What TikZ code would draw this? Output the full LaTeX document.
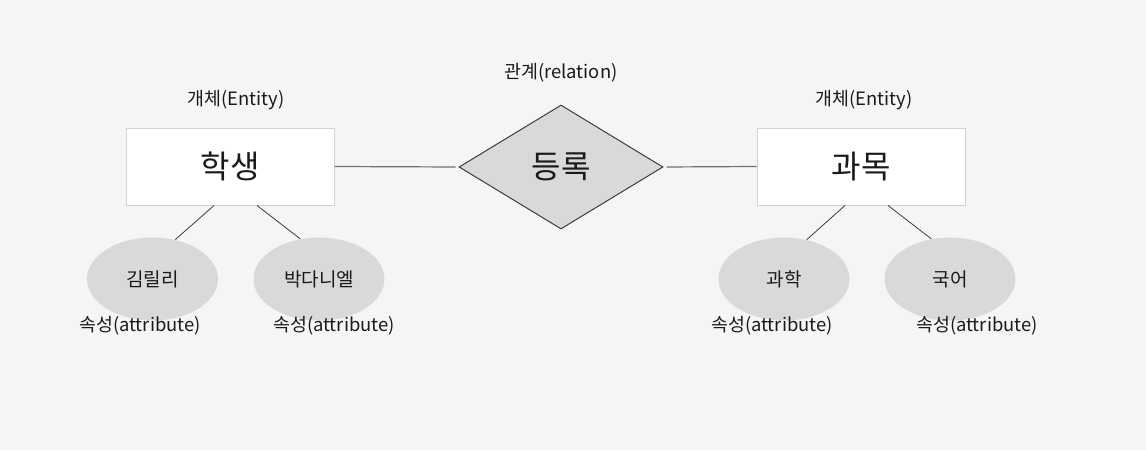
\documentclass[tikz,border=0pt]{standalone}
\usepackage{fontspec}
\setmainfont{Noto Sans CJK KR}
\usetikzlibrary{calc,shapes.geometric}
\definecolor{Paper}{HTML}{F5F5F5}
\definecolor{Ink}{HTML}{1A1A1A}
\definecolor{BoxEdge}{HTML}{D2D2D2}
\definecolor{Shade}{HTML}{D9D9D9}
\definecolor{LinkGray}{HTML}{707070}
\definecolor{RelEdge}{HTML}{3C3C3C}
\tikzset{
  entity/.style={
    draw=BoxEdge, line width=0.5pt, fill=white, text=Ink,
    minimum width=104pt, minimum height=38.5pt, font=\fontsize{16}{18}\selectfont
  },
  relation/.style={
    diamond, draw=RelEdge, line width=0.5pt, fill=Shade, text=Ink, inner sep=0pt,
    minimum width=102pt, minimum height=62pt, font=\fontsize{16}{18}\selectfont
  },
  attrib/.style={
    ellipse, fill=Shade, text=Ink, inner sep=0pt,
    minimum width=65.5pt, minimum height=41.5pt, font=\fontsize{9.5}{11}\selectfont
  },
  tag/.style={text=Ink, inner sep=1pt, font=\fontsize{9.2}{11}\selectfont},
  link/.style={draw=LinkGray, line width=0.6pt},
  branch/.style={draw=RelEdge, line width=0.4pt}
}
\begin{document}
\begin{tikzpicture}[x=0.5pt,y=-0.5pt]
  \fill[Paper] (0,0) rectangle (1146,450);
  \useasboundingbox (0,0) rectangle (1146,450);
  % entities and relation
  \node[entity] (student) at (230,166.5) {학생};
  \node[relation] (enroll) at (561,167) {등록};
  \node[entity] (course) at (861,166.5) {과목};
  \node[tag] (studenttag) at (236,100) {개체(Entity)};
  \node[tag] (enrolltag) at (561,73) {관계(relation)};
  \node[tag] (coursetag) at (864,100) {개체(Entity)};
  % attributes
  \node[attrib] (kim) at (152.5,279) {김릴리};
  \node[attrib] (park) at (319,279) {박다니엘};
  \node[attrib] (sci) at (784,279) {과학};
  \node[attrib] (kor) at (950,279) {국어};
  \node[tag] (kimtag) at (140,326) {속성(attribute)};
  \node[tag] (parktag) at (334,326) {속성(attribute)};
  \node[tag] (scitag) at (772,326) {속성(attribute)};
  \node[tag] (kortag) at (977,326) {속성(attribute)};
  % connectors
  \draw[link,shorten >=3pt/2] (student.east) -- (enroll.west);
  \draw[link,shorten <=3pt/2] (enroll.east) -- (course.west);
  \draw[branch] ($(student.south)+(-16,0)$) -- (kim.60);
  \draw[branch] ($(student.south)+(27,0)$) -- (park.115);
  \draw[branch] ($(course.south)+(-16,0)$) -- (sci.60);
  \draw[branch] ($(course.south)+(27,0)$) -- (kor.115);
\end{tikzpicture}
\end{document}
